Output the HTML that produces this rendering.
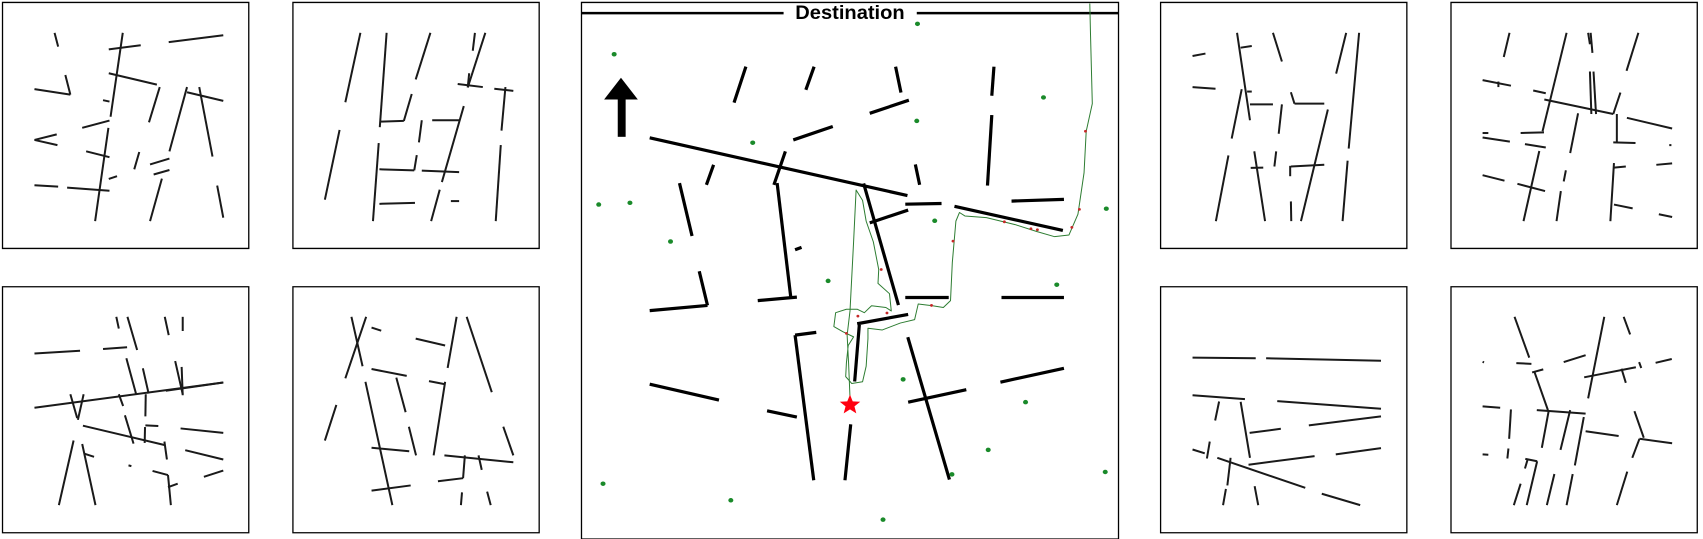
<!DOCTYPE html>
<html><head><meta charset="utf-8">
<style>
html,body{margin:0;padding:0;background:#fff;}
body{width:1703px;height:539px;position:relative;overflow:hidden;font-family:"Liberation Sans",sans-serif;}
svg.p{position:absolute;top:0;width:560px;height:539px;}
</style></head>
<body>
<svg class="p" id="left" style="left:0" viewBox="0 0 1560 1560" preserveAspectRatio="none"></svg>
<svg class="p" id="center" style="left:570px" viewBox="0 0 1560 1560" preserveAspectRatio="none"></svg>
<svg class="p" id="right" style="left:1143px" viewBox="0 0 1560 1560" preserveAspectRatio="none"></svg>
<script>
const leftBoxes=[[7,7,693,719],[816,7,1502,719],[7,830,693,1542],[816,830,1502,1542]];
const rightBoxes=[[49,7,735,719],[858,7,1544,719],[49,830,735,1542],[858,830,1544,1542]];
const leftWalls=[
[152,95,162,135],[303,143,392,131],[342,95,308,338],[470,122,622,102],[303,212,437,245],[96,258,196,274],[196,274,182,217],[287,290,305,294],[445,252,415,354],[229,370,305,349],[302,370,265,640],[96,405,158,389],[96,405,160,420],[240,438,305,455],[388,440,374,490],[418,476,472,459],[428,505,472,492],[303,518,326,510],[96,536,162,540],[187,543,305,552],[451,517,418,640],[521,252,472,438],[521,267,622,292],[555,252,592,453],[605,537,622,630],
[1004,95,962,296],[946,376,905,578],[1077,95,1058,368],[1058,352,1125,350],[1125,350,1147,272],[1199,95,1158,230],[1323,95,1317,147],[1352,95,1303,253],[1307,212,1303,253],[1275,243,1345,252],[1377,257,1430,263],[1408,252,1397,378],[1395,420,1381,640],[1292,307,1231,527],[1204,348,1280,348],[1175,348,1167,412],[1055,414,1039,640],[1057,490,1154,493],[1154,493,1161,449],[1175,494,1279,498],[1057,590,1156,587],[1225,549,1201,640],[1256,582,1279,582],
[96,1023,223,1015],[287,1010,354,1005],[324,917,331,951],[355,917,382,1013],[459,917,470,970],[509,917,509,958],[96,1180,622,1107],[352,1037,379,1140],[398,1066,414,1139],[488,1045,509,1141],[506,1062,509,1144],[462,1131,622,1107],[196,1141,215,1210],[233,1141,217,1215],[331,1141,343,1175],[406,1141,405,1205],[348,1202,372,1284],[231,1232,458,1288],[404,1236,403,1282],[405,1231,441,1233],[503,1240,622,1253],[458,1278,465,1330],[516,1303,622,1330],[205,1275,164,1462],[229,1285,266,1462],[235,1313,262,1322],[425,1363,468,1375],[468,1375,476,1462],[468,1410,495,1400],[568,1380,622,1362],[358,1347,366,1349],
[979,917,1010,1060],[1020,917,962,1095],[1035,948,1062,957],[1158,980,1240,1000],[1272,917,1247,1065],[1300,917,1370,1135],[1035,1068,1133,1088],[1104,1093,1130,1193],[1195,1103,1240,1112],[1240,1105,1208,1318],[1018,1105,1093,1462],[937,1172,905,1275],[1139,1235,1159,1318],[1402,1235,1430,1318],[1035,1296,1140,1306],[1238,1318,1430,1338],[1295,1318,1290,1384],[1220,1393,1290,1384],[1333,1318,1342,1360],[1035,1420,1144,1405],[1287,1425,1284,1462],[1357,1423,1367,1462]];
const rightWalls=[
[138,162,174,155],[262,95,298,348],[272,138,303,133],[362,95,387,178],[566,95,538,213],[602,95,573,430],[138,252,202,257],[275,258,247,401],[290,265,303,265],[298,302,362,302],[412,267,422,300],[422,300,505,300],[387,302,378,387],[515,317,440,640],[238,450,203,640],[310,438,340,640],[300,486,335,485],[371,438,366,482],[412,482,505,477],[410,480,410,510],[570,465,556,640],[412,583,413,640],
[1021,95,1005,165],[1180,95,1113,380],[1240,95,1245,128],[1247,95,1252,153],[1380,95,1347,205],[1245,207,1249,330],[1255,207,1262,330],[946,232,1025,248],[990,236,990,252],[1087,262,1122,270],[1118,288,1310,330],[1330,268,1310,330],[1348,341,1474,372],[1320,330,1320,410],[1310,412,1372,414],[946,385,962,385],[1052,385,1117,383],[946,398,1022,410],[1064,417,1122,427],[1212,328,1190,443],[1104,437,1060,640],[946,507,1007,523],[1043,532,1120,553],[1178,493,1172,525],[1164,553,1152,640],[1312,472,1302,640],[1312,485,1345,482],[1430,477,1474,473],[1312,592,1364,603],[1437,620,1474,628],[1466,420,1472,420],
[138,1035,314,1037],[343,1037,663,1044],[138,1144,284,1155],[374,1161,663,1183],[212,1162,201,1217],[272,1163,298,1325],[297,1253,384,1241],[462,1231,663,1205],[138,1301,172,1312],[186,1278,178,1327],[207,1325,452,1412],[244,1325,235,1405],[294,1345,478,1320],[537,1315,663,1297],[498,1429,605,1462],[231,1415,223,1462],[311,1407,321,1462],
[1035,917,1076,1035],[1285,917,1240,1153],[1339,917,1357,968],[946,1047,950,1049],[1040,1051,1082,1053],[1172,1048,1233,1028],[1084,1078,1115,1069],[1090,1075,1128,1187],[1229,1092,1373,1063],[1333,1067,1345,1108],[1382,1048,1388,1065],[1428,1050,1473,1039],[946,1176,995,1180],[1097,1187,1233,1197],[1190,1187,1163,1302],[1228,1207,1203,1347],[1025,1185,1020,1270],[1130,1190,1111,1296],[1233,1248,1325,1262],[1369,1190,1395,1267],[1383,1270,1474,1283],[1383,1270,1363,1325],[946,1315,962,1316],[1018,1298,1015,1327],[1065,1328,1098,1335],[1072,1328,1064,1356],[1098,1335,1069,1462],[1052,1400,1033,1462],[1146,1372,1125,1462],[1197,1372,1180,1462],[1349,1365,1320,1462]];
const centerWalls=[[490,193,457,297],[680,193,657,260],[907,193,922,268],[1181,193,1175,277],[835,328,944,290],[622,405,732,366],[1175,333,1163,537],[222,399,940,566],[600,438,568,535],[400,477,380,535],[962,476,974,535],[305,530,340,683],[577,530,615,860],[818,531,915,883],[934,591,1035,589],[1071,597,1373,667],[1230,582,1376,577],[835,645,942,608],[627,723,645,716],[360,785,383,884],[383,884,222,899],[523,870,632,860],[934,861,1055,861],[1202,861,1376,861],[800,937,942,910],[806,940,793,1104],[627,970,686,962],[627,970,679,1390],[222,1112,415,1158],[549,1189,632,1207],[941,976,1057,1388],[942,1164,1104,1128],[1199,1106,1376,1066],[782,1228,766,1390]];
const landmarksX=[968,123,1319,966,509,80,167,1016,280,1494,719,1356,928,1269,1165,1064,1491,92,448,872];
const landmarksY=[69,157,282,350,413,592,587,639,699,604,813,824,1098,1164,1302,1373,1366,1400,1448,1504];
const pathPts=[[780,1172],[780,1150],[776,1050],[772,970],[780,900],[790,700],[797,550],[815,580],[825,640],[845,700],[860,780],[858,820],[890,850],[895,900],[880,890],[840,885],[820,905],[800,895],[770,895],[740,905],[735,945],[760,960],[790,975],[775,1000],[770,1050],[768,1090],[785,1110],[815,1105],[825,1060],[830,980],[830,950],[870,955],[920,935],[960,925],[970,880],[1010,885],[1040,890],[1060,870],[1065,760],[1075,640],[1085,615],[1100,625],[1160,630],[1240,650],[1300,670],[1350,685],[1390,680],[1415,620],[1432,500],[1438,380],[1455,300],[1450,100],[1448,10]];
const markerPts=[[802,915],[770,965],[867,780],[883,906],[1007,884],[1067,698],[1210,642],[1284,662],[1302,665],[1398,658],[1419,606],[1436,380]];
const NS='http://www.w3.org/2000/svg';
function mk(t,a){const e=document.createElementNS(NS,t);for(const k in a)e.setAttribute(k,a[k]);return e;}
function boxes(svg,list){list.forEach(b=>{const r=mk('rect',{x:b[0],y:b[1],width:b[2]-b[0],height:b[3]-b[1],fill:'none',stroke:'#000','stroke-width':1.3,'vector-effect':'non-scaling-stroke'});


svg.appendChild(r);});}
function walls(svg,list,w,col){list.forEach(s=>{const l=mk('line',{x1:s[0],y1:s[1],x2:s[2],y2:s[3],stroke:col,'stroke-width':w,'vector-effect':'non-scaling-stroke'});


svg.appendChild(l);});}
const L=document.getElementById('left'),C=document.getElementById('center'),R=document.getElementById('right');
boxes(L,leftBoxes);boxes(R,rightBoxes);
walls(L,leftWalls,2,'#1a1a1a');walls(R,rightWalls,2,'#1a1a1a');
boxes(C,[[32,7,1528,1560]]);
walls(C,[[32,38,595,38],[966,38,1528,38]],2.5,'#000');
const t=mk('text',{x:780,y:55,'text-anchor':'middle','font-size':56,'font-weight':'bold','font-family':'Liberation Sans, sans-serif'});
t.textContent='Destination';


C.appendChild(t);
walls(C,centerWalls,3.2,'#000');
const shaft=mk('rect',{x:133,y:282,width:22,height:114,fill:'#000'});


C.appendChild(shaft);
const head=mk('polygon',{points:'95,288 189,288 142,225',fill:'#000'});


C.appendChild(head);
landmarksX.forEach((x,i)=>{const c=mk('ellipse',{cx:x,cy:landmarksY[i],rx:7,ry:6.5,fill:'#1a8a2a'});


C.appendChild(c);});
const p=mk('polyline',{points:pathPts.map(q=>q.join(',')).join(' '),fill:'none',stroke:'#2e7d32','stroke-width':1,'vector-effect':'non-scaling-stroke','stroke-linejoin':'round'});


C.appendChild(p);
markerPts.forEach(q=>{const c=mk('ellipse',{cx:q[0],cy:q[1],rx:4,ry:4,fill:'#c62828'});


C.appendChild(c);});
let sp=[];for(let i=0;i<10;i++){const r=i%2?13:30,a=-Math.PI/2+i*Math.PI/5;sp.push((780+r*Math.cos(a)).toFixed(1)+','+(1172+r*Math.sin(a)).toFixed(1));}
const st=mk('polygon',{points:sp.join(' '),fill:'#ff0010'});


C.appendChild(st);
</script>
</body></html>
